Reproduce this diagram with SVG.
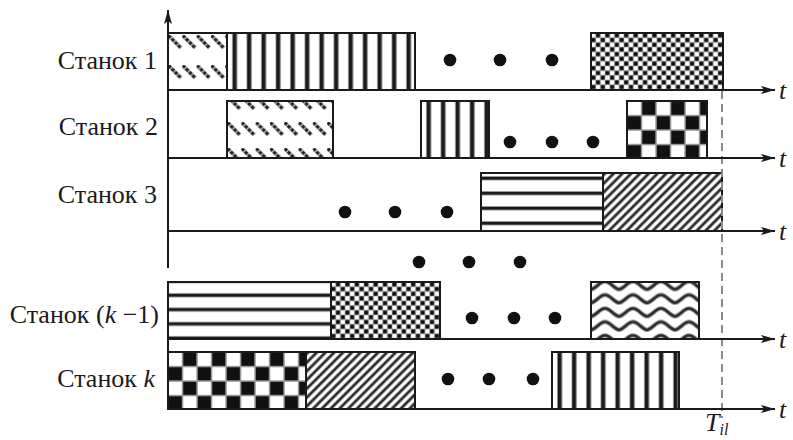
<svg xmlns="http://www.w3.org/2000/svg" width="793" height="440" viewBox="0 0 793 440">
<style>
.box{stroke:#1a1a1a;stroke-width:2}
.ax{stroke:#1a1a1a;stroke-width:2;fill:none}
.dot{fill:#111}
.lbl{font-family:"Liberation Serif","Times New Roman",serif;font-size:26px;fill:#1a1a1a}
.it{font-style:italic}
</style>
<defs>
<marker id="arr" markerUnits="userSpaceOnUse" markerWidth="16" markerHeight="10" refX="14" refY="5" orient="auto">
<path d="M0,1 L14,5 L0,9 L3,5 z" fill="#1a1a1a"/>
</marker>
<pattern id="vstripe" patternUnits="userSpaceOnUse" width="14.5" height="10">
<rect width="14.5" height="10" fill="#fff"/>
<rect x="5" width="5.4" height="10" fill="#999"/>
<rect x="5.8" width="3.6" height="10" fill="#1a1a1a"/>
</pattern>
<pattern id="hstripeA" patternUnits="userSpaceOnUse" width="10" height="15" y="5">
<rect width="10" height="15" fill="#fff"/>
<rect y="-2" width="10" height="4.5" fill="#999"/>
<rect y="-1" width="10" height="2.6" fill="#1a1a1a"/>
<rect y="13" width="10" height="4.5" fill="#999"/>
<rect y="14" width="10" height="2.6" fill="#1a1a1a"/>
</pattern>
<pattern id="hstripeB" patternUnits="userSpaceOnUse" width="10" height="14.3" y="13">
<rect width="10" height="14.3" fill="#fff"/>
<rect y="-2" width="10" height="4.5" fill="#999"/>
<rect y="-1" width="10" height="2.6" fill="#1a1a1a"/>
<rect y="12.3" width="10" height="4.5" fill="#999"/>
<rect y="13.3" width="10" height="2.6" fill="#1a1a1a"/>
</pattern>
<pattern id="hatch" patternUnits="userSpaceOnUse" width="6.2" height="6" patternTransform="rotate(45)">
<rect width="6.2" height="6" fill="#fff"/>
<rect x="0" width="3.4" height="6" fill="#999"/>
<rect x="0.6" width="2.2" height="6" fill="#2a2a2a"/>
</pattern>
<pattern id="smallcheck" patternUnits="userSpaceOnUse" width="9.4" height="9.4">
<rect width="9.4" height="9.4" fill="#b0b0b0"/>
<rect x="0.4" y="0.4" width="4" height="4" fill="#fff"/>
<rect x="5" y="0.4" width="4" height="4" fill="#0d0d0d"/>
<rect x="0.4" y="5" width="4" height="4" fill="#0d0d0d"/>
<rect x="5" y="5" width="4" height="4" fill="#fff"/>
</pattern>
<pattern id="bigcheck" patternUnits="userSpaceOnUse" width="29" height="29">
<rect width="29" height="29" fill="#999"/>
<rect x="0.8" y="0.8" width="13" height="13" fill="#fff"/>
<rect x="15.3" y="0.8" width="13" height="13" fill="#111"/>
<rect x="0.8" y="15.3" width="13" height="13" fill="#111"/>
<rect x="15.3" y="15.3" width="13" height="13" fill="#fff"/>
</pattern>
<pattern id="wave" patternUnits="userSpaceOnUse" width="28" height="13.5" y="-3">
<rect width="28" height="13.5" fill="#fff"/>
<path d="M-1,10.5 C5,10.5 8,2.5 14,2.5 C20,2.5 23,10.5 29,10.5" fill="none" stroke="#999" stroke-width="4.4"/>
<path d="M-1,10.5 C5,10.5 8,2.5 14,2.5 C20,2.5 23,10.5 29,10.5" fill="none" stroke="#2a2a2a" stroke-width="2.4"/>
</pattern>
<pattern id="dashA" patternUnits="userSpaceOnUse" width="14.3" height="30" y="2">
<rect width="14.3" height="30" fill="#fff"/>
<path d="M0.5,0.5 L13,13" fill="none" stroke="#aaa" stroke-width="4"/>
<path d="M0.5,0.5 L13,13" fill="none" stroke="#222" stroke-width="3" stroke-dasharray="3,1.6"/>
</pattern>
<pattern id="dashB" patternUnits="userSpaceOnUse" width="14.3" height="26" y="-5">
<rect width="14.3" height="26" fill="#fff"/>
<path d="M0.5,0.5 L13,13" fill="none" stroke="#aaa" stroke-width="4"/>
<path d="M0.5,0.5 L13,13" fill="none" stroke="#222" stroke-width="3" stroke-dasharray="3,1.6"/>
</pattern>
</defs>

<rect width="793" height="440" fill="#fff"/>

<!-- labels -->
<g id="labels">
<text class="lbl" x="157" y="69" text-anchor="end">Станок 1</text>
<text class="lbl" x="158" y="135" text-anchor="end">Станок 2</text>
<text class="lbl" x="157" y="203" text-anchor="end">Станок 3</text>
<text class="lbl" x="159" y="323" text-anchor="end">Станок (<tspan class="it">k</tspan> −1)</text>
<text class="lbl" x="155" y="387" text-anchor="end">Станок <tspan class="it">k</tspan></text>
</g>

<!-- row 1 -->
<g id="r1a" transform="translate(168,33)"><rect class="box" width="59" height="57" fill="url(#dashA)"/></g>
<g id="r1b" transform="translate(227,33)"><rect class="box" width="188" height="57" fill="url(#vstripe)"/></g>
<g id="r1dots"><circle class="dot" cx="450" cy="60" r="6.3"/><circle class="dot" cx="500" cy="60" r="6.3"/><circle class="dot" cx="552" cy="60" r="6.3"/></g>
<g id="r1c" transform="translate(591,33)"><rect class="box" width="132" height="57" fill="url(#smallcheck)"/></g>

<!-- row 2 -->
<g id="r2a" transform="translate(227,101)"><rect class="box" width="106" height="57" fill="url(#dashB)"/></g>
<g id="r2b" transform="translate(421,101)"><rect class="box" width="68" height="57" fill="url(#vstripe)"/></g>
<g id="r2dots"><circle class="dot" cx="510" cy="142" r="6.3"/><circle class="dot" cx="552" cy="142" r="6.3"/><circle class="dot" cx="593" cy="142" r="6.3"/></g>
<g id="r2c" transform="translate(627,101)"><rect class="box" width="80" height="57" fill="url(#bigcheck)"/></g>

<!-- row 3 -->
<g id="r3dots"><circle class="dot" cx="345" cy="212" r="6.3"/><circle class="dot" cx="395" cy="212" r="6.3"/><circle class="dot" cx="447" cy="212" r="6.3"/></g>
<g id="r3a" transform="translate(481,173)"><rect class="box" width="122" height="58" fill="url(#hstripeA)"/></g>
<g id="r3b" transform="translate(603,173)"><rect class="box" width="119" height="58" fill="url(#hatch)"/></g>

<!-- middle dots -->
<g id="middots"><circle class="dot" cx="419" cy="262" r="6.3"/><circle class="dot" cx="469" cy="262" r="6.3"/><circle class="dot" cx="520" cy="262" r="6.3"/></g>

<!-- row k-1 -->
<g id="rk1a" transform="translate(168,282)"><rect class="box" width="163" height="57" fill="url(#hstripeB)"/></g>
<g id="rk1b" transform="translate(331,282)"><rect class="box" width="109" height="57" fill="url(#smallcheck)"/></g>
<g id="rk1dots"><circle class="dot" cx="472" cy="318" r="6.3"/><circle class="dot" cx="514" cy="318" r="6.3"/><circle class="dot" cx="555" cy="318" r="6.3"/></g>
<g id="rk1c" transform="translate(591,282)"><rect class="box" width="108" height="57" fill="url(#wave)"/></g>

<!-- row k -->
<g id="rka" transform="translate(168,352)"><rect class="box" width="138" height="57" fill="url(#bigcheck)"/></g>
<g id="rkb" transform="translate(306,352)"><rect class="box" width="109" height="57" fill="url(#hatch)"/></g>
<g id="rkdots"><circle class="dot" cx="448" cy="379" r="6.3"/><circle class="dot" cx="489" cy="379" r="6.3"/><circle class="dot" cx="533" cy="379" r="6.3"/></g>
<g id="rkc" transform="translate(552,352)"><rect class="box" width="127" height="57" fill="url(#vstripe)"/></g>

<!-- connectors / axes -->
<g id="axes">
<line class="ax" x1="722" y1="91" x2="722" y2="418" style="stroke:#8a8a8a" stroke-dasharray="8,5"/>
<line class="ax" x1="168" y1="268" x2="168" y2="10" marker-end="url(#arr)"/>
<line class="ax" x1="168" y1="282" x2="168" y2="409"/>
<line class="ax" x1="168" y1="90" x2="775" y2="90" marker-end="url(#arr)"/>
<line class="ax" x1="168" y1="158" x2="775" y2="158" marker-end="url(#arr)"/>
<line class="ax" x1="168" y1="231" x2="775" y2="231" marker-end="url(#arr)"/>
<line class="ax" x1="168" y1="339" x2="775" y2="339" marker-end="url(#arr)"/>
<line class="ax" x1="168" y1="409" x2="775" y2="409" marker-end="url(#arr)"/>
</g>

<g id="axislabels">
<text class="lbl it" x="779" y="99">t</text>
<text class="lbl it" x="779" y="167">t</text>
<text class="lbl it" x="779" y="240">t</text>
<text class="lbl it" x="779" y="348">t</text>
<text class="lbl it" x="779" y="418">t</text>
<text class="lbl it" x="705" y="431" style="font-size:26px">T<tspan style="font-size:16px" dy="4">il</tspan></text>
</g>
</svg>
